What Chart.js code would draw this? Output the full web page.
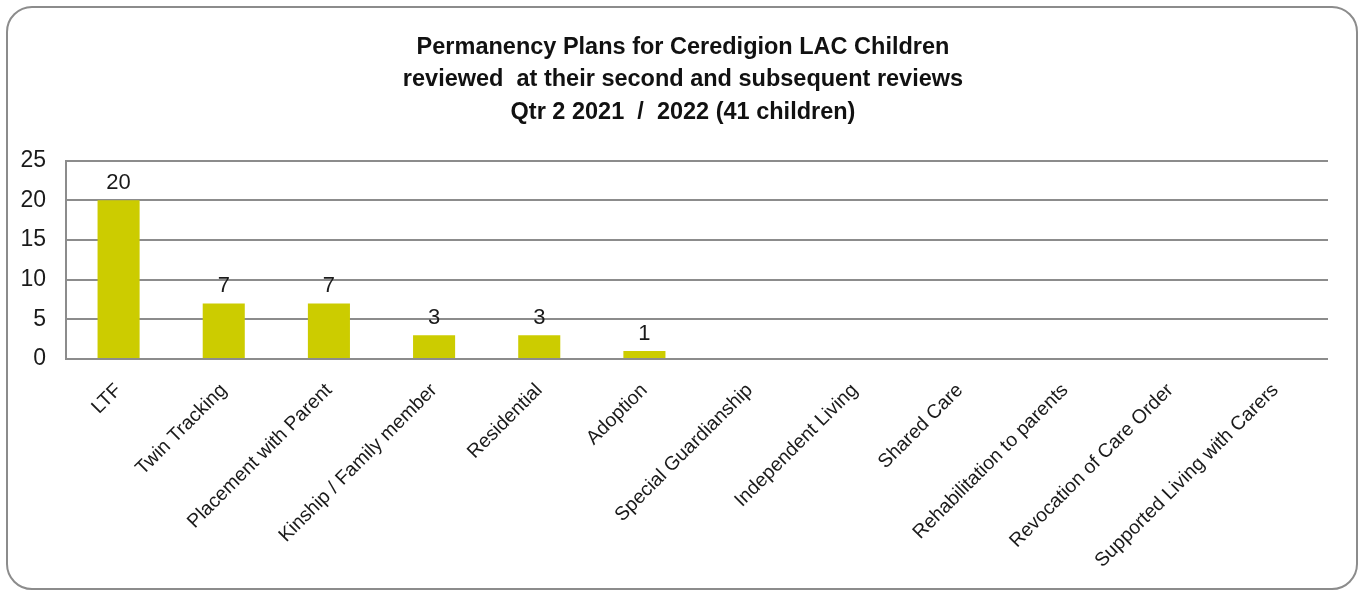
<!DOCTYPE html>
<html>
<head>
<meta charset="utf-8">
<script src="https://cdn.jsdelivr.net/npm/chart.js@4.4.1/dist/chart.umd.min.js"></script>
<style>
  html, body { margin: 0; padding: 0; background: #fff; }
  #wrap { position: relative; width: 1366px; height: 590px; }
  #frame {
    position: absolute; left: 6px; top: 6px; width: 1348px; height: 580px;
    border: 2px solid #8c8c8c; border-radius: 26px; pointer-events: none;
  }
  canvas { position: absolute; left: 0; top: 0; }
</style>
</head>
<body>
<div id="wrap">
  <canvas id="chartPlans" width="1366" height="590"></canvas>
  <div id="frame"></div>
</div>
<script>
const FONT = "'Liberation Sans Narrow', 'Arial Narrow', 'Liberation Sans', Arial, sans-serif";

const titleLines = [
  "Permanency Plans for Ceredigion LAC Children",
  "reviewed  at their second and subsequent reviews",
  "Qtr 2 2021  /  2022 (41 children)"
];

const categories = [
  "LTF",
  "Twin Tracking",
  "Placement with Parent",
  "Kinship / Family member",
  "Residential",
  "Adoption",
  "Special Guardianship",
  "Independent Living",
  "Shared Care",
  "Rehabilitation to parents",
  "Revocation of Care Order",
  "Supported Living with Carers"
];

const children = [20, 7, 7, 3, 3, 1, 0, 0, 0, 0, 0, 0];

const yTicks = [0, 5, 10, 15, 20, 25];

// value labels above each bar (zero bars get none)
const valueLabels = {
  id: "valueLabels",
  afterDatasetsDraw(chart) {
    const ctx = chart.ctx;
    const meta = chart.getDatasetMeta(0);
    ctx.save();
    ctx.font = "22px " + FONT;
    ctx.fillStyle = "#1a1a1a";
    ctx.textAlign = "center";
    ctx.textBaseline = "bottom";
    meta.data.forEach((bar, i) => {
      const v = children[i];
      if (!v) return;
      ctx.fillText(String(v), bar.x, bar.y - 6);
    });
    ctx.restore();
  }
};

new Chart(document.getElementById("chartPlans"), {
  type: "bar",
  data: {
    labels: categories,
    datasets: [{
      data: children,
      backgroundColor: "#cccc00",
      barPercentage: 0.4,
      categoryPercentage: 1.0
    }]
  },
  options: {
    responsive: false,
    animation: false,
    layout: { padding: 0 },
    plugins: {
      legend: { display: false },
      tooltip: { enabled: false },
      title: {
        display: true,
        text: titleLines,
        color: "#111",
        font: { family: FONT, size: 23.5, weight: "bold", lineHeight: 1.383 },
        padding: { top: 31, bottom: 32 }
      }
    },
    scales: {
      x: {
        grid: { display: false, drawTicks: false },
        border: { display: false },
        ticks: {
          color: "#1a1a1a",
          font: { family: FONT, size: 19.5 },
          minRotation: 45,
          maxRotation: 45,
          padding: 20,
          autoSkip: false
        },
        afterFit(scale) { scale.height = 231; }
      },
      y: {
        min: 0,
        max: 25,
        afterBuildTicks(scale) { scale.ticks = yTicks.map(v => ({ value: v })); },
        grid: { color: "#8c8c8c", lineWidth: 2, drawTicks: false },
        border: { display: true, color: "#8c8c8c", width: 2 },
        ticks: {
          color: "#1a1a1a",
          font: { family: FONT, size: 23 },
          padding: 20
        },
        afterFit(scale) { scale.width = 66; }
      },
      // empty right-hand gutter so the plot stops short of the frame
      gutter: {
        position: "right",
        grid: { display: false, drawTicks: false },
        border: { display: false },
        ticks: { display: false },
        afterFit(scale) { scale.width = 38; }
      }
    }
  },
  plugins: [valueLabels]
});
</script>
</body>
</html>
